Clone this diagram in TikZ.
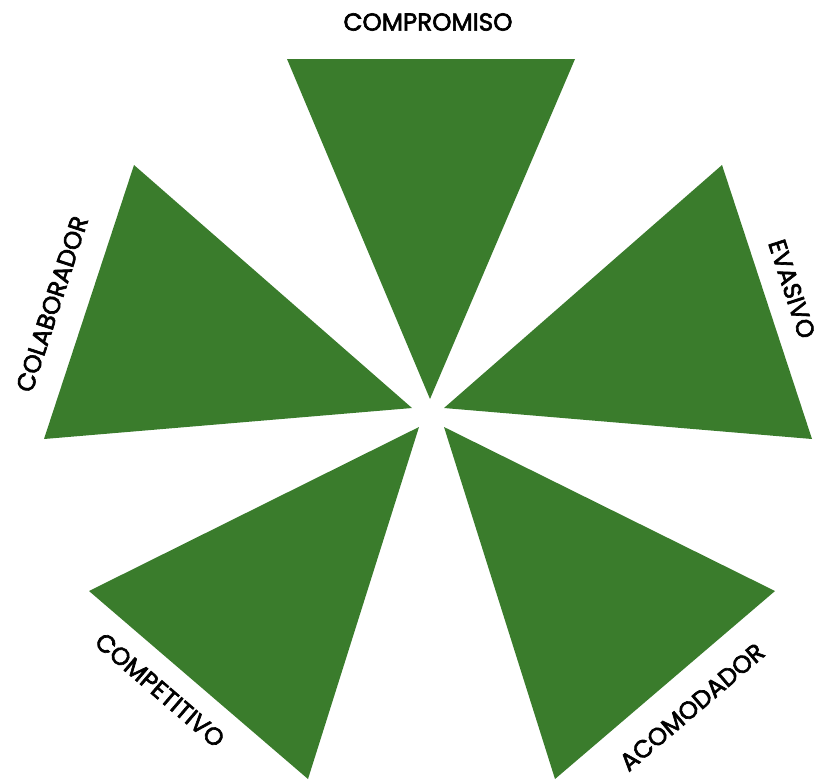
\documentclass[tikz,border=0pt]{standalone}
\usepackage{fontspec}
\setmainfont{Poppins}[FakeBold=2.6]
\usepackage{tikz}
\definecolor{leafgreen}{RGB}{58,124,44}
\tikzset{
  wedge/.style={fill=leafgreen, draw=none},
  tag/.style={font=\fontsize{14}{16}\selectfont, inner sep=0pt, text=black}
}

\begin{document}
\begin{tikzpicture}[x=0.02cm, y=-0.02cm]
\useasboundingbox (0,0) rectangle (830,779);
% five wedges round the centre
\fill[wedge] (287,59) -- (575,59) -- (430,399) -- cycle;
\fill[wedge] (722,165) -- (812,439) -- (444,408) -- cycle;
\fill[wedge] (775,591) -- (555,779) -- (444,427) -- cycle;
\fill[wedge] (89,591) -- (308,779) -- (419,427) -- cycle;
\fill[wedge] (134,165) -- (44,439) -- (412,408) -- cycle;
% labels
\node[tag] (compromiso) at (428,22) {COMPROMISO};
\node[tag, rotate=-72] (evasivo) at (792,289) {EVASIVO};
\node[tag, rotate=40.5] (acomodador) at (692,707) {ACOMODADOR};
\node[tag, rotate=-40.6] (competitivo) at (160,690) {COMPETITIVO};
\node[tag, rotate=72] (colaborador) at (52,304) {COLABORADOR};
\end{tikzpicture}
\end{document}
